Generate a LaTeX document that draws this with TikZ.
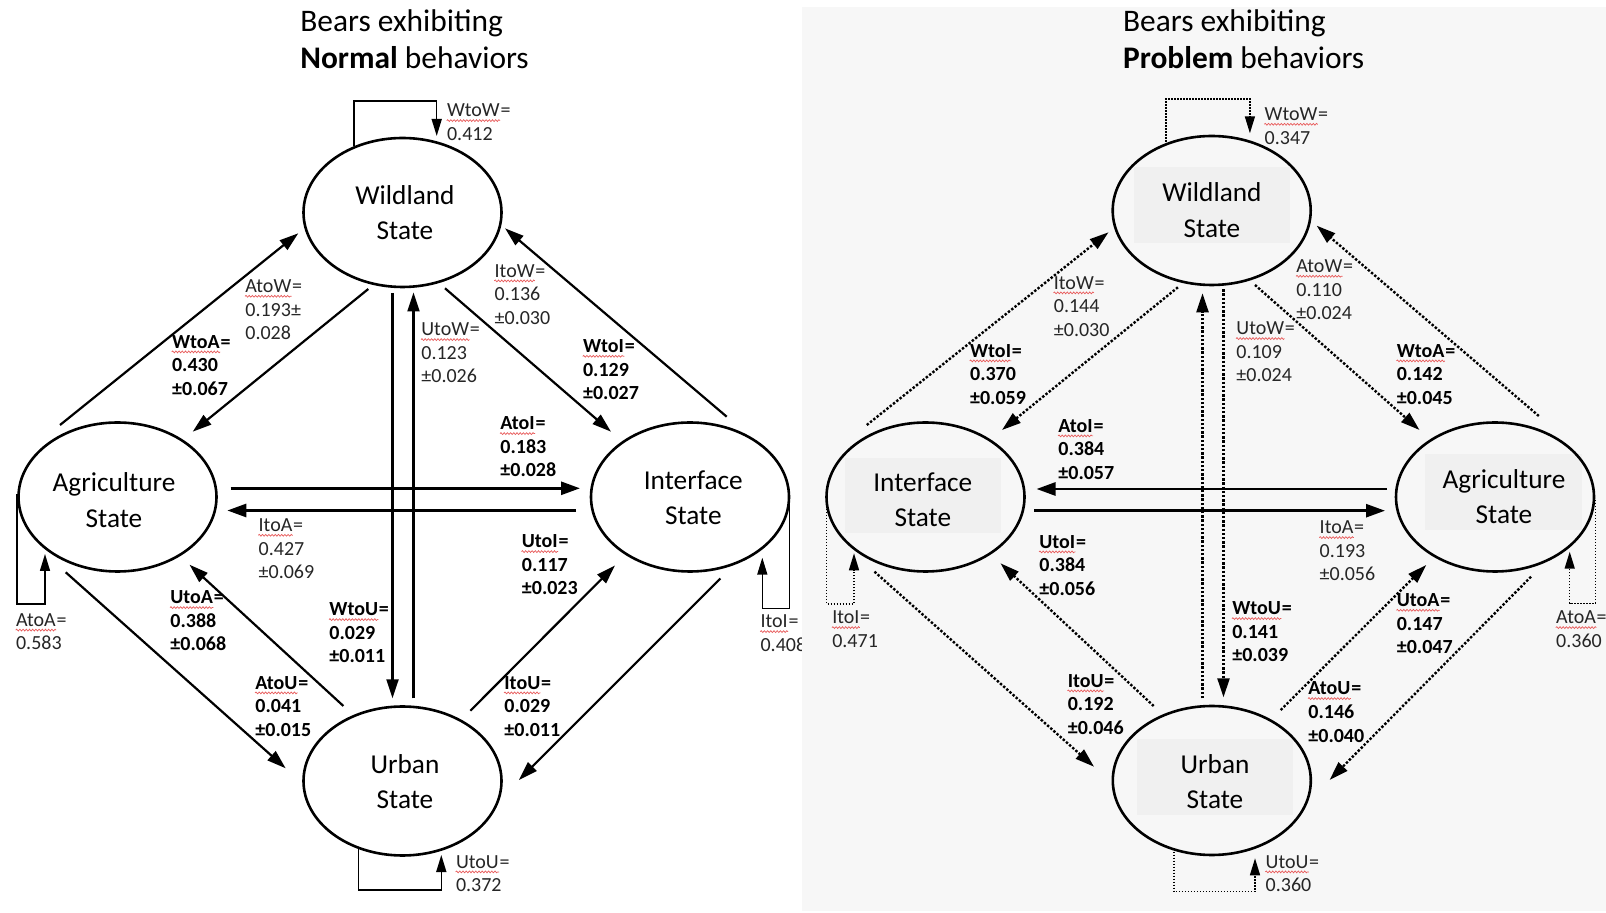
\documentclass[tikz,border=0pt]{standalone}
\usepackage{fontspec}
\setmainfont{Carlito}
\usetikzlibrary{arrows.meta,shapes.geometric,decorations.pathmorphing}
\definecolor{panelbg}{RGB}{247,247,247}
\definecolor{boxbg}{RGB}{240,240,240}
\definecolor{wavered}{RGB}{232,90,90}
\tikzset{
  st/.style={ellipse, draw, line width=1.3pt, minimum width=99pt, minimum height=74.5pt, inner sep=0pt},
  sttxt/.style={font=\fontsize{13.65}{16}\selectfont, inner sep=0pt, anchor=base},
  ttl/.style={font=\fontsize{15.7}{19}\selectfont, inner sep=0pt, anchor=base west},
  lbn/.style={font=\fontsize{10}{12}\selectfont, text=black!85, inner sep=0pt},
  lbb/.style={font=\fontsize{10}{12}\selectfont\bfseries, inner sep=0pt},
  conn/.style={line width=1.1pt, -{Triangle[length=9.5pt,width=6pt]}},
  hconn/.style={line width=1.35pt, -{Triangle[length=9.5pt,width=6.5pt]}},
  dconn/.style={line width=1.2pt, dash pattern=on 1.2pt off 0.9pt, -{Triangle[length=9.5pt,width=6pt]}},
  lp/.style={line width=0.75pt, -{Triangle[length=8.5pt,width=5pt]}},
  dlp/.style={lp, dash pattern=on 0.75pt off 0.75pt},
  wavy/.style={draw=wavered, line width=0.35pt, decorate, decoration={snake, amplitude=0.45pt, segment length=1.6pt}}
}
\newcommand\labthree[7]{%
  \node[#4, anchor=base west] (#1) at (#2,#3) {#5};
  \node[#4, anchor=base west] (#1e) at (#1.base east) {=};
  \node[#4, anchor=base west] (#1b) at ([yshift=-11.75pt]#1.base west) {#6};
  \node[#4, anchor=base west] (#1c) at ([yshift=-23.5pt]#1.base west) {#7};
  \draw[wavy] ([yshift=-1.8pt]#1.base west) -- ([yshift=-1.8pt]#1.base east);
}
\newcommand\labtwo[6]{%
  \node[#4, anchor=base west] (#1) at (#2,#3) {#5};
  \node[#4, anchor=base west] (#1e) at (#1.base east) {=};
  \node[#4, anchor=base west] (#1b) at ([yshift=-11.75pt]#1.base west) {#6};
  \draw[wavy] ([yshift=-1.8pt]#1.base west) -- ([yshift=-1.8pt]#1.base east);
}
\begin{document}
\begin{tikzpicture}[x=0.5pt,y=-0.5pt]
\useasboundingbox (0,0) rectangle (1606,913);
\fill[white] (0,0) rectangle (1606,913);

% ================= LEFT PANEL =================
\node[ttl] (tn1) at (300,32) {Bears exhibiting};
\node[ttl] (tn2) at (300,69) {\textbf{Normal} behaviors};

\node[st] (nW) at (402.5,212.5) {};
\node[st] (nA) at (117.5,497) {};
\node[st] (nI) at (690,497) {};
\node[st] (nU) at (402.5,781) {};

\node[sttxt] (nW1) at (405,205) {Wildland};
\node[sttxt] (nW2) at (405,240) {State};
\node[sttxt] (nA1) at (114,491.7) {Agriculture};
\node[sttxt] (nA2) at (114,527.7) {State};
\node[sttxt] (nI1) at (693.3,489.3) {Interface};
\node[sttxt] (nI2) at (693.3,524.3) {State};
\node[sttxt] (nU1) at (405,773.3) {Urban};
\node[sttxt] (nU2) at (405,808.3) {State};

% connectors
\draw[conn] ([shift={(-57.5,-72)}]nA.center) -- ([shift={(-104.2,20.8)}]nW.center);
\draw[conn] ([shift={(-34.2,76.5)}]nW.center) -- ([shift={(75.2,-65.3)}]nA.center);
\draw[conn] ([shift={(-10,80.5)}]nW.center) -- ([shift={(-10,-82.7)}]nU.center);
\draw[conn] ([shift={(11,-82.7)}]nU.center) -- ([shift={(11,80)}]nW.center);
\draw[conn] ([shift={(42.5,75.8)}]nW.center) -- ([shift={(-79,-65.3)}]nI.center);
\draw[conn] ([shift={(36.7,-80.3)}]nI.center) -- ([shift={(102.5,15.8)}]nW.center);
\draw[hconn] ([shift={(113.2,-8.7)}]nA.center) -- ([shift={(-110,-8.7)}]nI.center);
\draw[hconn] ([shift={(-114,13.5)}]nI.center) -- ([shift={(109.8,13.5)}]nA.center);
\draw[conn] ([shift={(-51.8,75.3)}]nA.center) -- ([shift={(-116.8,-12.7)}]nU.center);
\draw[conn] ([shift={(-59.1,-75)}]nU.center) -- ([shift={(72,67.7)}]nA.center);
\draw[conn] ([shift={(67.9,-70.3)}]nU.center) -- ([shift={(-75,68.5)}]nI.center);
\draw[conn] ([shift={(30.4,81.5)}]nI.center) -- ([shift={(116.4,-1)}]nU.center);
% loops
\draw[lp] ([shift={(-48.5,-66.5)}]nW.center) -- ++(0,-45) -| ([shift={(34.2,-76.5)}]nW.center);
\draw[lp] ([shift={(-100.3,-3)}]nA.center) -- ++(0,110) -| ([shift={(-72.5,57)}]nA.center);
\draw[lp] ([shift={(99.3,5)}]nI.center) -- ++(0,106.3) -| ([shift={(72.3,60.7)}]nI.center);
\draw[lp] ([shift={(-43.8,67)}]nU.center) -- ++(0,42) -| ([shift={(38.8,74)}]nU.center);

% labels
\labtwo{nWtoW}{446.7}{117}{lbn}{WtoW}{0.412}
\labthree{nAtoW}{245}{292.7}{lbn}{AtoW}{0.193±}{0.028}
\labthree{nWtoA}{171.7}{348.3}{lbb}{WtoA}{0.430}{±0.067}
\labthree{nItoW}{494.3}{277.3}{lbn}{ItoW}{0.136}{±0.030}
\labthree{nUtoW}{421}{336}{lbn}{UtoW}{0.123}{±0.026}
\labthree{nWtoI}{582.7}{352.7}{lbb}{WtoI}{0.129}{±0.027}
\labthree{nAtoI}{500}{430}{lbb}{AtoI}{0.183}{±0.028}
\labthree{nItoA}{258.3}{531.7}{lbn}{ItoA}{0.427}{±0.069}
\labthree{nUtoI}{521.5}{548}{lbb}{UtoI}{0.117}{±0.023}
\labthree{nUtoA}{170}{604}{lbb}{UtoA}{0.388}{±0.068}
\labthree{nWtoU}{329}{616}{lbb}{WtoU}{0.029}{±0.011}
\labtwo{nAtoA}{15.7}{626.5}{lbn}{AtoA}{0.583}
\labtwo{nItoI}{760.2}{628}{lbn}{ItoI}{0.408}
\labthree{nAtoU}{255}{689.3}{lbb}{AtoU}{0.041}{±0.015}
\labthree{nItoU}{504}{689.3}{lbb}{ItoU}{0.029}{±0.011}
\labtwo{nUtoU}{455.6}{868.3}{lbn}{UtoU}{0.372}

% ================= RIGHT PANEL =================
\fill[panelbg] (802,7) rectangle (1606,911);
\fill[boxbg] (1134,167) rectangle (1290,243);
\fill[boxbg] (845,458) rectangle (1000.5,533);
\fill[boxbg] (1424.7,454) rectangle (1581.5,530);
\fill[boxbg] (1136.8,739) rectangle (1292.5,815);

\node[ttl] (tp1) at (1122.7,32) {Bears exhibiting};
\node[ttl] (tp2) at (1122.7,69) {\textbf{Problem} behaviors};

\node[st] (pW) at (1211.7,210.5) {};
\node[st] (pI) at (925.5,497) {};
\node[st] (pA) at (1495,497) {};
\node[st] (pU) at (1211.8,780.5) {};

\node[sttxt] (pW1) at (1212,202) {Wildland};
\node[sttxt] (pW2) at (1212,237.3) {State};
\node[sttxt] (pI1) at (922.8,491.7) {Interface};
\node[sttxt] (pI2) at (922.8,526.7) {State};
\node[sttxt] (pA1) at (1504,488.3) {Agriculture};
\node[sttxt] (pA2) at (1504,523.3) {State};
\node[sttxt] (pU1) at (1215,773.3) {Urban};
\node[sttxt] (pU2) at (1215,808.3) {State};

% connectors
\draw[dconn] ([shift={(-58.7,-72)}]pI.center) -- ([shift={(-103.2,21.8)}]pW.center);
\draw[dconn] ([shift={(-33.8,76.8)}]pW.center) -- ([shift={(76.5,-67)}]pI.center);
\draw[dconn] ([shift={(-9.3,-82.2)}]pU.center) -- ([shift={(-9.2,82.8)}]pW.center);
\draw[dconn] ([shift={(11.8,78.8)}]pW.center) -- ([shift={(11.7,-83.2)}]pU.center);
\draw[dconn] ([shift={(43.3,74.5)}]pW.center) -- ([shift={(-75.5,-67)}]pA.center);
\draw[dconn] ([shift={(43.8,-81)}]pA.center) -- ([shift={(105,15.2)}]pW.center);
\draw[hconn] ([shift={(-108,-8)}]pA.center) -- ([shift={(111,-8)}]pI.center);
\draw[hconn] ([shift={(108.5,13.7)}]pI.center) -- ([shift={(-110,13.7)}]pA.center);
\draw[dconn] ([shift={(-51,74.7)}]pI.center) -- ([shift={(-117.8,-13.8)}]pU.center);
\draw[dconn] ([shift={(-58.1,-74.5)}]pU.center) -- ([shift={(75,66.3)}]pI.center);
\draw[dconn] ([shift={(68.9,-70.5)}]pU.center) -- ([shift={(-68.8,68)}]pA.center);
\draw[dconn] ([shift={(36,79.7)}]pA.center) -- ([shift={(117.8,-0.5)}]pU.center);
% loops
\draw[dlp] ([shift={(-45.7,-68.5)}]pW.center) -- ++(0,-43) -| ([shift={(38.2,-77.2)}]pW.center);
\draw[dlp] ([shift={(-98.8,3)}]pI.center) -- ++(0,104) -| ([shift={(-71.5,56.3)}]pI.center);
\draw[dlp] ([shift={(100.5,3)}]pA.center) -- ++(0,103.3) -| ([shift={(74.7,54.7)}]pA.center);
\draw[dlp] ([shift={(-38,71.2)}]pU.center) -- ++(0,40) -| ([shift={(43.2,77.8)}]pU.center);

% labels
\labtwo{pWtoW}{1264.3}{120.7}{lbn}{WtoW}{0.347}
\labthree{pItoW}{1053.5}{289.3}{lbn}{ItoW}{0.144}{±0.030}
\labthree{pWtoI}{969.7}{357.3}{lbb}{WtoI}{0.370}{±0.059}
\labthree{pAtoW}{1296}{272.7}{lbn}{AtoW}{0.110}{±0.024}
\labthree{pUtoW}{1236}{335}{lbn}{UtoW}{0.109}{±0.024}
\labthree{pWtoA}{1396.4}{357.3}{lbb}{WtoA}{0.142}{±0.045}
\labthree{pAtoI}{1058}{432.3}{lbb}{AtoI}{0.384}{±0.057}
\labthree{pUtoI}{1039}{548.3}{lbb}{UtoI}{0.384}{±0.056}
\labthree{pItoA}{1319.3}{534}{lbn}{ItoA}{0.193}{±0.056}
\labthree{pWtoU}{1231.9}{615}{lbb}{WtoU}{0.141}{±0.039}
\labthree{pUtoA}{1396.4}{606.7}{lbb}{UtoA}{0.147}{±0.047}
\labtwo{pItoI}{831.9}{624}{lbn}{ItoI}{0.471}
\labtwo{pAtoA}{1555.8}{624}{lbn}{AtoA}{0.360}
\labthree{pItoU}{1067.4}{687.3}{lbb}{ItoU}{0.192}{±0.046}
\labthree{pAtoU}{1308}{695}{lbb}{AtoU}{0.146}{±0.040}
\labtwo{pUtoU}{1265.3}{868.3}{lbn}{UtoU}{0.360}
\end{tikzpicture}
\end{document}
